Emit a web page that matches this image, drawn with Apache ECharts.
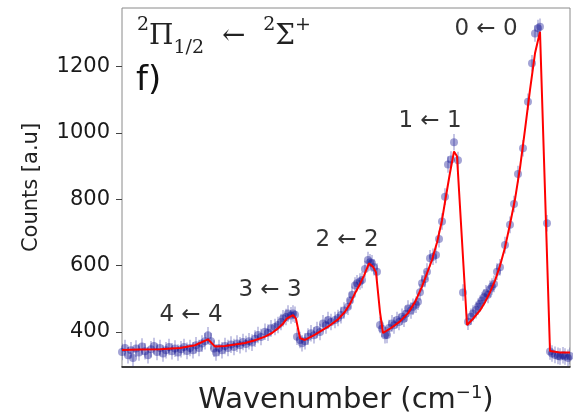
<!DOCTYPE html>
<html>
<head>
<meta charset="utf-8">
<script src="https://cdn.jsdelivr.net/npm/echarts@6/dist/echarts.min.js"></script>
<style>
  html, body { margin: 0; padding: 0; background: #fff; }
  #chart { width: 573px; height: 415px; }
</style>
</head>
<body>
<div id="chart"></div>
<script>
// measured spectrum, x is relative wavenumber (arbitrary units, no ticks shown)
var wavenumber = [
  0, 3, 6, 9, 11, 14, 17, 20, 23, 26, 29, 32, 35, 38, 41, 44, 47, 50, 53, 56, 59, 62, 65, 68, 71, 74, 77, 80, 83, 86, 89, 92, 94, 97,
  100, 103, 106, 109, 112, 115, 118, 121, 124, 127, 130, 133, 136, 139, 143, 146, 149, 153, 156, 159, 161, 164, 166, 169, 171, 173, 175, 178, 180, 183, 186,
  189, 192, 195, 198, 201, 204, 206, 209, 213, 216, 219, 222, 226, 228, 230, 233, 235, 238, 240, 243, 246, 248, 250, 252, 255, 258, 260, 263, 265,
  267, 270, 272, 275, 277, 280, 282, 284, 286, 289, 291, 294, 296, 298, 300, 303, 305, 308, 311, 314, 317, 320, 323, 326, 329, 332, 336, 341, 346,
  349, 351, 354, 356, 358, 360, 362, 364, 366, 368, 370, 372, 375, 378, 383, 388, 392, 396, 401, 406, 410, 413, 416, 418, 425, 428, 430, 433, 436, 438, 441, 443, 446, 448
];
var counts = [
  340, 352, 330, 345, 322, 350, 338, 356, 342, 330, 348, 358, 340, 352, 335, 345, 355, 342, 350, 338, 348, 355, 343, 352, 345, 360, 352, 365, 372, 390, 372, 350, 338, 352,
  345, 358, 352, 362, 355, 365, 360, 370, 364, 372, 368, 380, 391, 385, 401, 398, 411, 415, 421, 430, 441, 445, 456, 450, 456, 452, 386, 376, 366, 372, 386,
  396, 390, 406, 400, 426, 420, 436, 430, 436, 442, 451, 465, 476, 495, 512, 540, 547, 552, 557, 590, 617, 610, 607, 595, 582, 421, 410, 390, 391,
  412, 426, 420, 436, 430, 446, 440, 455, 471, 465, 476, 482, 491, 520, 547, 560, 582, 622, 627, 632, 680, 733, 808, 905, 920, 972, 918, 519, 431,
  446, 456, 466, 476, 485, 495, 505, 517, 512, 530, 537, 545, 582, 595, 662, 723, 786, 876, 954, 1094, 1210, 1300, 1316, 1320, 728, 341, 335, 331, 328, 326, 330, 326, 322, 328
];
var errHalf = 25;

// fitted model curve
var fitX = [
  0, 18, 38, 58, 73, 86, 88, 93, 103, 113, 123, 133, 143, 150, 156, 161, 165, 171, 174, 178, 183, 193, 206, 216, 223, 228, 233,
  238, 242, 247, 251, 254, 258, 261, 268, 278, 286, 293, 300, 306, 310, 315, 320, 324, 328, 332, 335, 345, 351, 358, 363, 368,
  373, 378, 383, 388, 393, 398, 403, 408, 413, 418, 428, 438, 448
];
var fitY = [
  346, 347, 348, 352, 360, 378, 379, 356, 358, 362, 367, 375, 386, 397, 411, 425, 441, 451, 440, 381, 376, 392, 416, 438, 461, 485, 517,
  545, 570, 607, 597, 580, 460, 397, 410, 432, 457, 490, 537, 585, 617, 670, 737, 810, 880, 944, 930, 421, 440, 465, 490, 520,
  555, 600, 655, 725, 800, 895, 1010, 1130, 1240, 1305, 343, 338, 338
];

var yTicks = [400, 600, 800, 1000, 1200];
var peakNames = ['0 ← 0', '1 ← 1', '2 ← 2', '3 ← 3', '4 ← 4'];
var peakLabelAt = [[364, 1312], [308, 1036], [225, 678], [148, 528], [69, 452]];

var chart = echarts.init(document.getElementById('chart'));

var points = wavenumber.map(function (x, i) { return [x, counts[i]]; });
var fit = fitX.map(function (x, i) { return [x, fitY[i]]; });
var labels = peakLabelAt.map(function (p, i) { return { value: p, name: peakNames[i] }; });

chart.setOption({
  animation: false,
  grid: {
    left: 122, right: 3, top: 8, bottom: 48,
    outerBoundsMode: 'none',
    show: true, borderColor: '#8a8a8a', borderWidth: 1
  },
  xAxis: {
    type: 'value',
    min: 0, max: 448,
    axisLabel: { show: false },
    axisTick: { show: false },
    splitLine: { show: false },
    axisLine: { show: true, onZero: false, lineStyle: { color: '#111', width: 1.5 } },
    name: 'Wavenumber (cm{sup|−1})',
    nameLocation: 'middle',
    nameGap: 17,
    nameTextStyle: {
      fontFamily: 'DejaVu Sans', fontSize: 29, color: '#222', lineHeight: 32,
      rich: { sup: { fontFamily: 'DejaVu Sans', fontSize: 18, lineHeight: 18, color: '#222', verticalAlign: 'top' } }
    }
  },
  yAxis: {
    type: 'value',
    min: 294.5, max: 1376.7,
    splitLine: { show: false },
    axisLine: { show: false },
    axisTick: {
      show: true, length: 6, lineStyle: { color: '#444' },
      customValues: yTicks
    },
    axisLabel: {
      fontFamily: 'DejaVu Sans', fontSize: 21, color: '#1a1a1a', margin: 12,
      customValues: yTicks,
      formatter: function (v) { return String(v); }
    },
    name: 'Counts [a.u]',
    nameLocation: 'middle',
    nameGap: 80,
    nameTextStyle: { fontFamily: 'DejaVu Sans', fontSize: 21, color: '#222' }
  },
  graphic: [
    {
      type: 'text', left: 137, top: 16,
      style: {
        text: '{sup|2}{m|Π}{sub|1/2}{m|  ←  }{sup|2}{m|Σ}{sup|+}',
        rich: {
          m: { fontFamily: 'DejaVu Serif', fontSize: 28, fill: '#222', lineHeight: 42 },
          sup: { fontFamily: 'DejaVu Serif', fontSize: 19, fill: '#222', verticalAlign: 'top', lineHeight: 30 },
          sub: { fontFamily: 'DejaVu Serif', fontSize: 19, fill: '#222', verticalAlign: 'bottom', lineHeight: 34 }
        }
      }
    },
    {
      type: 'text', left: 136, top: 64,
      style: { text: 'f)', fontFamily: 'DejaVu Sans', fontSize: 34, fill: '#111' }
    }
  ],
  series: [
    {
      type: 'custom',
      clip: true,
      data: points,
      z: 2,
      renderItem: function (params, api) {
        var x = api.value(0), y = api.value(1);
        var a = api.coord([x, y + errHalf]);
        var b = api.coord([x, y - errHalf]);
        return {
          type: 'line',
          shape: { x1: a[0], y1: a[1], x2: b[0], y2: b[1] },
          style: { stroke: 'rgba(0,0,139,0.3)', lineWidth: 1.5 }
        };
      }
    },
    {
      type: 'scatter',
      data: points,
      symbolSize: 8,
      z: 3,
      itemStyle: { color: 'rgba(0,0,139,0.45)' }
    },
    {
      type: 'line',
      data: fit,
      showSymbol: false,
      z: 4,
      lineStyle: { color: '#ff0000', width: 2 }
    },
    {
      type: 'scatter',
      data: labels,
      symbolSize: 0,
      z: 5,
      label: {
        show: true, position: 'inside', formatter: '{b}',
        fontFamily: 'DejaVu Sans', fontSize: 23, color: '#000'
      }
    }
  ]
});
</script>
</body>
</html>
